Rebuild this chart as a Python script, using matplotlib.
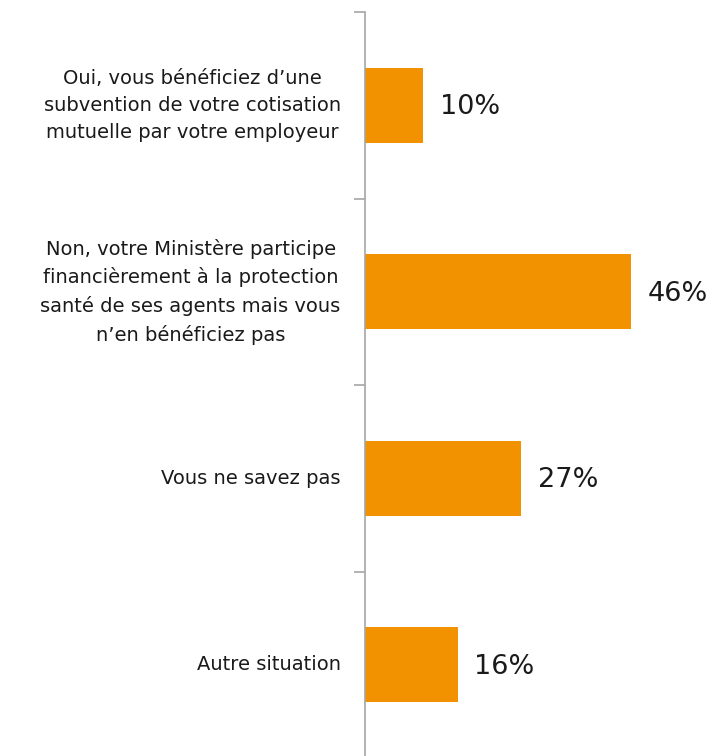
import matplotlib.pyplot as plt
import numpy as np

categories = [
    "Oui, vous bénéficiez d\u2019une\nsubvention de votre cotisation\nmutuelle par votre employeur",
    "Non, votre Ministère participe\nfinancièrement à la protection\nsanté de ses agents mais vous\nn\u2019en bénéficiez pas",
    "Vous ne savez pas",
    "Autre situation",
]
values = [10, 46, 27, 16]
value_labels = ["10%", "46%", "27%", "16%"]

BAR_COLOR = "#F39200"
AXIS_COLOR = "#A6A6A6"
TEXT_COLOR = "#1a1a1a"

plt.rcParams["font.family"] = ["DejaVu Sans"]

fig = plt.figure(figsize=(7.12, 7.56), dpi=100)
W, H = 712, 756
ax = fig.add_axes([365 / W, -2 / H, (W - 365) / W, (758 - 12) / H])

y = np.arange(len(categories))
ax.barh(y, values, height=0.4, color=BAR_COLOR)

for yi, v, lab in zip(y, values, value_labels):
    ax.text(v + 2.9, yi + 0.012, lab, va="center", ha="left", fontsize=19.5, color=TEXT_COLOR)

ax.set_xlim(0, 60)
ax.set_ylim(len(categories) - 0.5, -0.5)

for s in ["top", "right", "bottom"]:
    ax.spines[s].set_visible(False)
ax.spines["left"].set_color(AXIS_COLOR)
ax.spines["left"].set_linewidth(1.2)
ax.set_xticks([])

# ticks sit on category boundaries, labels at the centres
ax.set_yticks(np.arange(len(categories) + 1) - 0.5)
ax.set_yticklabels([])
ax.tick_params(axis="y", which="major", length=8, width=1.2, color=AXIS_COLOR, direction="out")

ax.set_yticks(y, minor=True)
ax.set_yticklabels(categories, minor=True, fontsize=14, color=TEXT_COLOR, va="center")
ax.tick_params(axis="y", which="minor", length=0, pad=17.5)
for lbl in ax.get_yticklabels(minor=True):
    lbl.set_multialignment("center")
    lbl.set_linespacing(1.55)

fig.savefig("out.png", dpi=100)
